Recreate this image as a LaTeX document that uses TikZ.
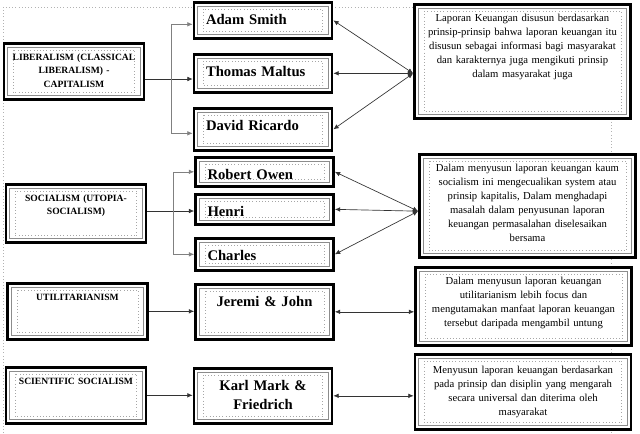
\documentclass[tikz,border=0pt]{standalone}
\usepackage{fontspec}
\setmainfont{Liberation Serif}
\usetikzlibrary{arrows.meta, positioning, calc}

\begin{document}
\begin{tikzpicture}[x=0.75pt, y=-0.75pt,
        frame/.style={rectangle, draw=black, line width=2pt, fill=white, anchor=north, inner ysep=0pt,
                      path picture={
                        \draw[black!45, line width=0.5pt]
                          ([shift={(2.8pt,-2.8pt)}]path picture bounding box.north west) rectangle
                          ([shift={(-2.8pt,2.8pt)}]path picture bounding box.south east);
                        \draw[black!35, line width=0.4pt, dotted]
                          ([shift={(7pt,-5pt)}]path picture bounding box.north west) rectangle
                          ([shift={(-7pt,5pt)}]path picture bounding box.south east);}},
        lbox/.style={frame, text width=97pt, inner xsep=4pt, align=center,
                     font=\fontsize{7.2}{10}\selectfont\bfseries, text height=12.75pt},
        mbox/.style={frame, text width=85.5pt, inner xsep=9pt, align=left,
                     font=\fontsize{11}{14.25}\selectfont\bfseries, text height=16.5pt},
        rbox/.style={frame, text width=154pt, inner xsep=4pt, align=center,
                     font=\fontsize{8}{10.5}\selectfont, text height=12.75pt},
        arr/.style={-{Latex[length=4pt,width=3.5pt]}, line width=0.5pt, black!80},
        both/.style={{Latex[length=4pt,width=3.5pt]}-{Latex[length=4pt,width=3.5pt]}, line width=0.5pt, black!80},
        guide/.style={black!30, line width=0.4pt, dotted}
    ]
        \useasboundingbox (0,0) rectangle (640,433);
        \draw[guide] (3,433) -- (3,7) -- (611,7) -- (611,433);

        % aliran
        \node[lbox, text depth=29.25pt] (lib)  at (74,42)   {LIBERALISM (CLASSICAL\\ LIBERALISM) -\\ CAPITALISM};
        \node[lbox, text depth=30.75pt] (soc)  at (76,183)  {SOCIALISM (UTOPIA-\\ SOCIALISM)};
        \node[lbox, text depth=29.25pt] (util) at (77.5,282) {UTILITARIANISM};
        \node[lbox, text depth=29.25pt] (sci)  at (76,366)  {SCIENTIFIC SOCIALISM};

        % tokoh
        \foreach \n/\x/\y/\d/\t in {
            adam/263/1/10.5/Adam Smith,
            thomas/263/53/12/Thomas Maltus,
            david/263/107/15/David Ricardo,
            robert/264.5/156/5.25/Robert Owen,
            henri/264.5/193/6/Henri,
            charles/264.5/237/7.5/Charles}
        {
            \node[mbox, text depth=\d pt] (\n) at (\x,\y) {\t};
        }
        \node[mbox, align=center, text depth=24.75pt] (jeremi) at (264.5,283) {Jeremi \& John};
        \node[mbox, align=center, text depth=24.75pt] (karl)   at (263,367)   {Karl Mark \&\\ Friedrich};

        % penjelasan
        \node[rbox, text depth=72.75pt] (r1) at (522.5,3) {Laporan Keuangan disusun berdasarkan\\
            prinsip-prinsip bahwa laporan keuangan itu\\ disusun sebagai informasi bagi masyarakat\\
            dan karakternya juga mengikuti prinsip\\ dalam masyarakat juga};
        \node[rbox, text depth=64.5pt] (r2) at (527.5,153) {Dalam menyusun laporan keuangan kaum\\
            socialism ini mengecualikan system atau\\ prinsip kapitalis, Dalam menghadapi\\
            masalah dalam penyusunan laporan\\ keuangan permasalahan diselesaikan\\ bersama};
        \node[rbox, text depth=45.75pt] (r3) at (523.5,266) {Dalam menyusun laporan keuangan\\
            utilitarianism lebih focus dan\\ mengutamakan manfaat laporan keuangan\\
            tersebut daripada mengambil untung};
        \node[rbox, text height=14.25pt, text depth=42pt] (r4) at (523,353) {Menyusun laporan keuangan berdasarkan\\
            pada prinsip dan disiplin yang mengarah\\ secara universal dan diterima oleh\\ masyarakat};

        % panah kiri
        \coordinate (j1) at (171,79);
        \draw[arr] (lib.east |- j1) -- (j1 -| thomas.west);
        \draw[arr, black!50] (j1) |- ([yshift=-3pt]adam.west);
        \draw[arr, black!50] (j1) |- ([yshift=-3pt]david.west);
        \coordinate (j2) at (173,211);
        \draw[arr] (soc.east |- j2) -- (j2 -| henri.west);
        \draw[arr, black!50] (j2) |- (robert.west);
        \draw[arr, black!50] (j2) |- (charles.west);
        \draw[arr] (util.east) -- (util.east -| jeremi.west);
        \draw[arr] (sci.east) -- (sci.east -| karl.west);

        % panah kanan
        \coordinate (k1) at ([yshift=-9pt]r1.west);
        \foreach \m in {adam, thomas, david}
            \draw[both] (k1) -- (\m.east);
        \coordinate (k2) at ([yshift=-4pt]r2.west);
        \foreach \m in {robert, henri, charles}
            \draw[both] (k2) -- (\m.east);
        \draw[both] (r3.west |- jeremi.east) -- (jeremi.east);
        \draw[both] (r4.west |- karl.east) -- (karl.east);
    \end{tikzpicture}
\end{document}
